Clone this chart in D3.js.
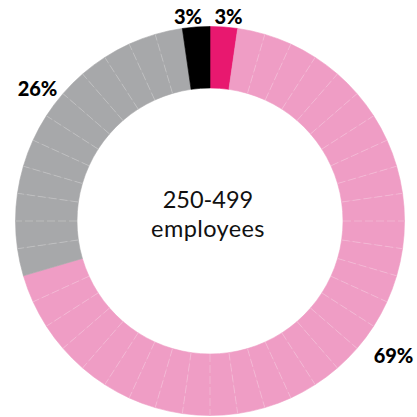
<!DOCTYPE html>
<html><head><meta charset="utf-8">
<script src="https://cdn.jsdelivr.net/npm/d3@7"></script>
<style>html,body{margin:0;padding:0;background:#fff;}</style>
</head><body>
<svg id="c" width="417" height="417"></svg>
<script>
const categories = ["A", "B", "C", "D"];
const percentLabels = [3, 69, 26, 3];
const cellCounts = [1, 30, 12, 1];
const colors = ["#e8186f", "#ef9dc5", "#a7a8aa", "#000000"];
const centerTitle = ["250-499", "employees"];

const svg = d3.select("#c");
const cx = 210, cy = 221, rOuter = 194.5, rInner = 133;
const g = svg.append("g").attr("transform", `translate(${cx},${cy})`);

const cells = [];
categories.forEach((c, i) => { for (let k = 0; k < cellCounts[i]; k++) cells.push({cat: i}); });
const total = cells.length;
const ang = d3.scaleLinear().domain([0, total]).range([0, 2 * Math.PI]);
const arc = d3.arc().innerRadius(rInner).outerRadius(rOuter);

g.selectAll("path.cell").data(cells).join("path")
  .attr("class", "cell")
  .attr("d", (d, i) => arc({startAngle: ang(i), endAngle: ang(i + 1)}))
  .attr("fill", d => colors[d.cat])
  .attr("stroke", d => colors[d.cat]).attr("stroke-width", 0.6);

const seps = [];
cells.forEach((d, i) => { const n = cells[(i + 1) % total]; if (n.cat === d.cat) seps.push(i + 1); });
g.selectAll("line.sep").data(seps).join("line")
  .attr("class", "sep")
  .attr("x1", i => rInner * Math.sin(ang(i))).attr("y1", i => -rInner * Math.cos(ang(i)))
  .attr("x2", i => rOuter * Math.sin(ang(i))).attr("y2", i => -rOuter * Math.cos(ang(i)))
  .attr("stroke", "#fff").attr("stroke-opacity", 0.4).attr("stroke-width", 0.6)
  .attr("stroke-dasharray", "8,3");

const labelPos = [[228.5, 24], [188, 24], [393.5, 363], [37.5, 96]];
const labelIdx = [0, 3, 1, 2];
labelIdx.forEach((ci, j) => {
  svg.append("text").attr("x", labelPos[j][0]).attr("y", labelPos[j][1])
    .attr("text-anchor", "middle").attr("font-family", "Lato, sans-serif")
    .attr("font-weight", 900).attr("font-size", 20).attr("fill", "#000")
    .text(percentLabels[ci] + "%");
});

const title = svg.append("text").attr("text-anchor", "middle")
  .attr("font-family", "Lato, sans-serif").attr("font-size", 23.5).attr("fill", "#111");
title.append("tspan").attr("x", 208).attr("y", 208).text(centerTitle[0]);
title.append("tspan").attr("x", 208).attr("y", 237).attr("letter-spacing", 0.4).text(centerTitle[1]);
</script>
</body></html>
